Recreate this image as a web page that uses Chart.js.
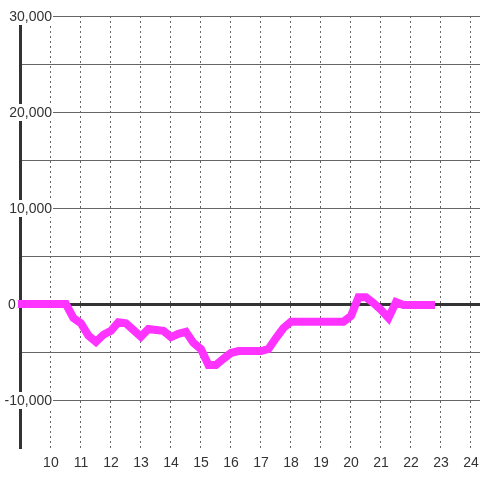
<!DOCTYPE html>
<html>
<head>
<meta charset="utf-8">
<script src="https://cdn.jsdelivr.net/npm/chart.js@4"></script>
<style>
  html, body { margin: 0; padding: 0; background: #fff; }
  #wrap { width: 480px; height: 480px; }
</style>
</head>
<body>
<div id="wrap"><canvas id="chart"></canvas></div>
<script>
const hours = [8.9, 9.25, 9.5, 9.75, 10, 10.25, 10.5, 10.75, 11, 11.25, 11.5, 11.75, 12, 12.25, 12.5,
  12.75, 13, 13.25, 13.5, 13.75, 14, 14.25, 14.5, 14.75, 15, 15.25, 15.5, 15.75, 16, 16.25, 16.5,
  16.75, 17, 17.25, 17.5, 17.75, 18, 18.25, 18.5, 18.75, 19, 19.25, 19.5, 19.75, 20, 20.25, 20.5,
  20.75, 21, 21.25, 21.5, 21.75, 22, 22.25, 22.5, 22.8];
const values = [0, 0, 0, 0, 0, 0, 0, -1450, -2000, -3300, -3950, -3200, -2800, -1900, -2000,
  -2700, -3400, -2600, -2700, -2800, -3450, -3100, -2900, -4050, -4700, -6350, -6350, -5700, -5100, -4900, -4900,
  -4900, -4900, -4700, -3550, -2500, -1850, -1850, -1850, -1850, -1850, -1850, -1850, -1850, -1250, 700, 700,
  100, -600, -1450, 200, -100, -100, -100, -100, -100];
const xTickLabels = [10, 11, 12, 13, 14, 15, 16, 17, 18, 19, 20, 21, 22, 23, 24];
const yTickLabels = [30000, 20000, 10000, 0, -10000];

const points = hours.map((h, i) => ({ x: h, y: values[i] }));
const fmt = v => v.toLocaleString('en-US');

// y labels sit on top of the grid with a white box behind them
const yLabelPlugin = {
  id: 'yLabels',
  afterDraw(chart) {
    const ctx = chart.ctx;
    const y = chart.scales.y;
    ctx.save();
    ctx.font = '14px "Liberation Sans", Arial, sans-serif';
    ctx.textBaseline = 'middle';
    yTickLabels.forEach(v => {
      const py = y.getPixelForValue(v) + 1;
      const txt = fmt(v);
      const w = ctx.measureText(txt).width;
      let left = 52 - w;
      if (v === 0) left = 8;
      if (v !== 0) {
        ctx.fillStyle = '#fff';
        ctx.fillRect(left - 1, py - 9, w + 2, 17);
      }
      ctx.fillStyle = '#333';
      ctx.textAlign = 'left';
      ctx.fillText(txt, left, py);
    });
    ctx.restore();
  }
};

new Chart(document.getElementById('chart'), {
  type: 'line',
  data: {
    datasets: [{
      data: points,
      borderColor: '#ff33ff',
      borderWidth: 8,
      pointRadius: 0,
      tension: 0,
      fill: false,
      clip: false,
      borderJoinStyle: 'miter'
    }]
  },
  options: {
    responsive: true,
    maintainAspectRatio: false,
    animation: false,
    layout: { padding: { top: 16, right: 0, left: 0, bottom: 0 } },
    plugins: { legend: { display: false }, tooltip: { enabled: false } },
    scales: {
      x: {
        type: 'linear',
        min: 8.97,
        max: 24.3,
        afterBuildTicks: s => { s.ticks = xTickLabels.map(v => ({ value: v })); },
        border: { display: false, dash: [2, 3] },
        grid: {
          color: '#666',
          lineWidth: 1,
          drawTicks: false
        },
        ticks: {
          padding: 7,
          color: '#333',
          font: { family: '"Liberation Sans", Arial, sans-serif', size: 14 },
          callback: v => String(v),
          maxRotation: 0,
          autoSkip: false
        },
        afterFit: s => { s.height = 32; s.paddingLeft = 0; s.paddingRight = 0; }
      },
      y: {
        min: -15000,
        max: 30000,
        afterBuildTicks: s => {
          const t = [];
          for (let v = -15000; v <= 30000; v += 5000) t.push({ value: v });
          s.ticks = t;
        },
        border: { display: true, color: '#333', width: 3 },
        grid: {
          drawTicks: false,
          color: c => c.tick.value === -15000 ? 'rgba(0,0,0,0)' : (c.tick.value === 0 ? '#333' : '#666'),
          lineWidth: c => c.tick.value === 0 ? 3 : 1
        },
        ticks: { display: false },
        afterFit: s => { s.width = 20; s.paddingTop = 0; s.paddingBottom = 0; }
      }
    }
  },
  plugins: [yLabelPlugin]
});
</script>
</body>
</html>
